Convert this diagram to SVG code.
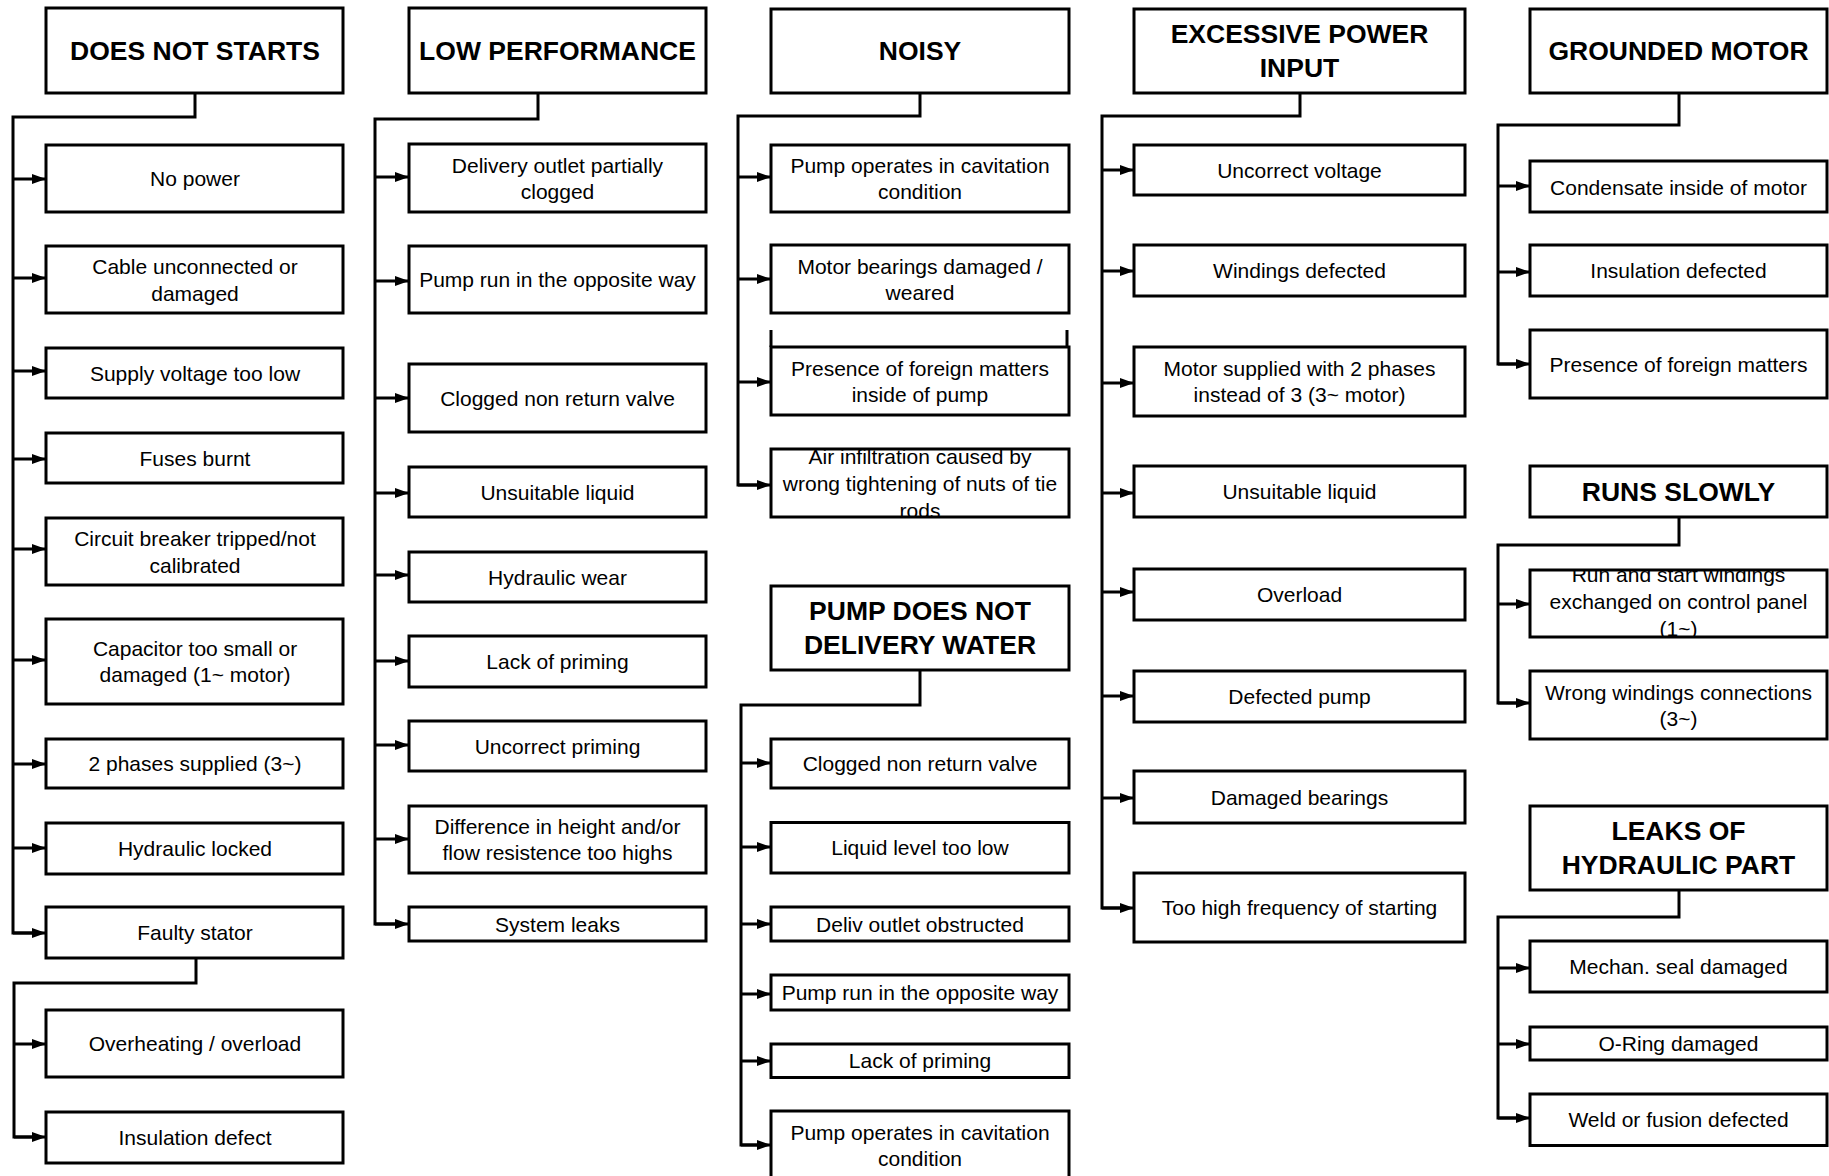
<svg xmlns="http://www.w3.org/2000/svg" width="1829" height="1176" viewBox="0 0 1829 1176">
<style>
.box{fill:#fff;stroke:#000;stroke-width:3}
.hd{font-family:"Liberation Sans",Arial,sans-serif;font-weight:bold;font-size:26.5px;text-anchor:middle;fill:#000}
.tx{font-family:"Liberation Sans",Arial,sans-serif;font-size:21px;text-anchor:middle;fill:#000}
.cn{fill:none;stroke:#000;stroke-width:3;stroke-linejoin:miter}
.ar{fill:none;stroke:#000;stroke-width:3;marker-end:url(#arr)}
</style>
<defs>
<marker id="arr" markerUnits="userSpaceOnUse" markerWidth="14" markerHeight="10" refX="14" refY="5" orient="auto">
<path d="M0,0 L14,5 L0,10 z" fill="#000"/>
</marker>
<clipPath id="clipAir"><rect x="771" y="449" width="298" height="68"/></clipPath>
<clipPath id="clipRun"><rect x="1530" y="570" width="297" height="67"/></clipPath>
</defs>
<rect width="1829" height="1176" fill="#fff"/>

<g id="connectors">
<!-- column 1 -->
<path class="cn" d="M195,93 V117 H13 V933 H32"/>
<line class="ar" x1="13" y1="179" x2="46" y2="179"/>
<line class="ar" x1="13" y1="278" x2="46" y2="278"/>
<line class="ar" x1="13" y1="371" x2="46" y2="371"/>
<line class="ar" x1="13" y1="459" x2="46" y2="459"/>
<line class="ar" x1="13" y1="549" x2="46" y2="549"/>
<line class="ar" x1="13" y1="660" x2="46" y2="660"/>
<line class="ar" x1="13" y1="764" x2="46" y2="764"/>
<line class="ar" x1="13" y1="848" x2="46" y2="848"/>
<line class="ar" x1="13" y1="933" x2="46" y2="933"/>
<path class="cn" d="M196,958 V983 H14 V1137 H32"/>
<line class="ar" x1="14" y1="1044" x2="46" y2="1044"/>
<line class="ar" x1="14" y1="1137" x2="46" y2="1137"/>
<!-- column 2 -->
<path class="cn" d="M538,93 V119 H375 V924 H395"/>
<line class="ar" x1="375" y1="177" x2="409" y2="177"/>
<line class="ar" x1="375" y1="281" x2="409" y2="281"/>
<line class="ar" x1="375" y1="398" x2="409" y2="398"/>
<line class="ar" x1="375" y1="493" x2="409" y2="493"/>
<line class="ar" x1="375" y1="575" x2="409" y2="575"/>
<line class="ar" x1="375" y1="661" x2="409" y2="661"/>
<line class="ar" x1="375" y1="745" x2="409" y2="745"/>
<line class="ar" x1="375" y1="839" x2="409" y2="839"/>
<line class="ar" x1="375" y1="924" x2="409" y2="924"/>
<!-- column 3 noisy -->
<path class="cn" d="M920,93 V116 H738 V485 H757"/>
<line class="ar" x1="738" y1="177" x2="771" y2="177"/>
<line class="ar" x1="738" y1="279" x2="771" y2="279"/>
<line class="ar" x1="738" y1="382" x2="771" y2="382"/>
<line class="ar" x1="738" y1="485" x2="771" y2="485"/>
<!-- column 3 pump does not deliver -->
<path class="cn" d="M920,670 V705 H741 V1145 H757"/>
<line class="ar" x1="741" y1="763" x2="771" y2="763"/>
<line class="ar" x1="741" y1="847" x2="771" y2="847"/>
<line class="ar" x1="741" y1="924" x2="771" y2="924"/>
<line class="ar" x1="741" y1="994" x2="771" y2="994"/>
<line class="ar" x1="741" y1="1061" x2="771" y2="1061"/>
<line class="ar" x1="741" y1="1145" x2="771" y2="1145"/>
<!-- column 4 -->
<path class="cn" d="M1300,93 V116 H1102 V908 H1120"/>
<line class="ar" x1="1102" y1="170" x2="1134" y2="170"/>
<line class="ar" x1="1102" y1="271" x2="1134" y2="271"/>
<line class="ar" x1="1102" y1="383" x2="1134" y2="383"/>
<line class="ar" x1="1102" y1="493" x2="1134" y2="493"/>
<line class="ar" x1="1102" y1="592" x2="1134" y2="592"/>
<line class="ar" x1="1102" y1="696" x2="1134" y2="696"/>
<line class="ar" x1="1102" y1="798" x2="1134" y2="798"/>
<line class="ar" x1="1102" y1="908" x2="1134" y2="908"/>
<!-- column 5 -->
<path class="cn" d="M1679,93 V125 H1498 V364 H1516"/>
<line class="ar" x1="1498" y1="186" x2="1530" y2="186"/>
<line class="ar" x1="1498" y1="272" x2="1530" y2="272"/>
<line class="ar" x1="1498" y1="364" x2="1530" y2="364"/>
<path class="cn" d="M1679,517 V545 H1498 V703 H1516"/>
<line class="ar" x1="1498" y1="604" x2="1530" y2="604"/>
<line class="ar" x1="1498" y1="703" x2="1530" y2="703"/>
<path class="cn" d="M1679,890 V917 H1498 V1118 H1516"/>
<line class="ar" x1="1498" y1="968" x2="1530" y2="968"/>
<line class="ar" x1="1498" y1="1044" x2="1530" y2="1044"/>
<line class="ar" x1="1498" y1="1118" x2="1530" y2="1118"/>
</g>

<!-- Column 1 -->
<g id="does-not-starts"><rect class="box" x="46" y="8" width="297" height="85"/><text class="hd" x="195" y="59.5">DOES NOT STARTS</text></g>
<g id="no-power"><rect class="box" x="46" y="145" width="297" height="67"/><text class="tx" x="195" y="186">No power</text></g>
<g id="cable"><rect class="box" x="46" y="246" width="297" height="67"/><text class="tx" x="195" y="274">Cable unconnected or</text><text class="tx" x="195" y="300.5">damaged</text></g>
<g id="supply-voltage"><rect class="box" x="46" y="348" width="297" height="50"/><text class="tx" x="195" y="380.5">Supply voltage too low</text></g>
<g id="fuses"><rect class="box" x="46" y="433" width="297" height="50"/><text class="tx" x="195" y="465.5">Fuses burnt</text></g>
<g id="circuit-breaker"><rect class="box" x="46" y="518" width="297" height="67"/><text class="tx" x="195" y="546">Circuit breaker tripped/not</text><text class="tx" x="195" y="572.5">calibrated</text></g>
<g id="capacitor"><rect class="box" x="46" y="619" width="297" height="85"/><text class="tx" x="195" y="656">Capacitor too small or</text><text class="tx" x="195" y="682">damaged (1~ motor)</text></g>
<g id="two-phases"><rect class="box" x="46" y="739" width="297" height="49"/><text class="tx" x="195" y="771">2 phases supplied (3~)</text></g>
<g id="hydraulic-locked"><rect class="box" x="46" y="823" width="297" height="51"/><text class="tx" x="195" y="856">Hydraulic locked</text></g>
<g id="faulty-stator"><rect class="box" x="46" y="907" width="297" height="51"/><text class="tx" x="195" y="940">Faulty stator</text></g>
<g id="overheating"><rect class="box" x="46" y="1010" width="297" height="67"/><text class="tx" x="195" y="1051">Overheating / overload</text></g>
<g id="insulation-defect"><rect class="box" x="46" y="1112" width="297" height="51"/><text class="tx" x="195" y="1145">Insulation defect</text></g>

<!-- Column 2 -->
<g id="low-performance"><rect class="box" x="409" y="8" width="297" height="85"/><text class="hd" x="557.5" y="59.5">LOW PERFORMANCE</text></g>
<g id="delivery-outlet"><rect class="box" x="409" y="144" width="297" height="68"/><text class="tx" x="557.5" y="172.5">Delivery outlet partially</text><text class="tx" x="557.5" y="198.5">clogged</text></g>
<g id="pump-run-1"><rect class="box" x="409" y="246" width="297" height="67"/><text class="tx" x="557.5" y="287">Pump run in the opposite way</text></g>
<g id="clogged-valve-1"><rect class="box" x="409" y="364" width="297" height="68"/><text class="tx" x="557.5" y="405.5">Clogged non return valve</text></g>
<g id="unsuitable-liquid-1"><rect class="box" x="409" y="467" width="297" height="50"/><text class="tx" x="557.5" y="499.5">Unsuitable liquid</text></g>
<g id="hydraulic-wear"><rect class="box" x="409" y="552" width="297" height="50"/><text class="tx" x="557.5" y="584.5">Hydraulic wear</text></g>
<g id="lack-priming-1"><rect class="box" x="409" y="636" width="297" height="51"/><text class="tx" x="557.5" y="669">Lack of priming</text></g>
<g id="uncorrect-priming"><rect class="box" x="409" y="721" width="297" height="50"/><text class="tx" x="557.5" y="753.5">Uncorrect priming</text></g>
<g id="difference-height"><rect class="box" x="409" y="806" width="297" height="67"/><text class="tx" x="557.5" y="834">Difference in height and/or</text><text class="tx" x="557.5" y="860">flow resistence too highs</text></g>
<g id="system-leaks"><rect class="box" x="409" y="907" width="297" height="34"/><text class="tx" x="557.5" y="931.5">System leaks</text></g>

<!-- Column 3 -->
<g id="noisy"><rect class="box" x="771" y="9" width="298" height="84"/><text class="hd" x="920" y="60">NOISY</text></g>
<g id="cavitation-1"><rect class="box" x="771" y="145" width="298" height="67"/><text class="tx" x="920" y="173">Pump operates in cavitation</text><text class="tx" x="920" y="199">condition</text></g>
<g id="motor-bearings"><rect class="box" x="771" y="245" width="298" height="68"/><text class="tx" x="920" y="273.5">Motor bearings damaged /</text><text class="tx" x="920" y="299.5">weared</text></g>
<g id="foreign-matters-pump"><line x1="771" y1="330" x2="771" y2="347" stroke="#000" stroke-width="3"/><line x1="1067" y1="330" x2="1067" y2="347" stroke="#000" stroke-width="3"/><rect class="box" x="771" y="347" width="298" height="68"/><text class="tx" x="920" y="375.5">Presence of foreign matters</text><text class="tx" x="920" y="401.5">inside of pump</text></g>
<g id="air-infiltration"><rect x="771" y="449" width="298" height="68" fill="#fff"/><g clip-path="url(#clipAir)"><text class="tx" x="920" y="463.5">Air infiltration caused by</text><text class="tx" x="920" y="490.5">wrong tightening of nuts of tie</text><text class="tx" x="920" y="517.5">rods</text></g><rect x="771" y="449" width="298" height="68" fill="none" stroke="#000" stroke-width="3"/></g>

<g id="pump-no-water"><rect class="box" x="771" y="586" width="298" height="84"/><text class="hd" x="920" y="620">PUMP DOES NOT</text><text class="hd" x="920" y="654">DELIVERY WATER</text></g>
<g id="clogged-valve-2"><rect class="box" x="771" y="739" width="298" height="49"/><text class="tx" x="920" y="771">Clogged non return valve</text></g>
<g id="liquid-level"><rect class="box" x="771" y="822.5" width="298" height="50.5"/><text class="tx" x="920" y="855">Liquid level too low</text></g>
<g id="deliv-outlet"><rect class="box" x="771" y="907" width="298" height="34"/><text class="tx" x="920" y="931.5">Deliv outlet obstructed</text></g>
<g id="pump-run-2"><rect class="box" x="771" y="975" width="298" height="35"/><text class="tx" x="920" y="1000">Pump run in the opposite way</text></g>
<g id="lack-priming-2"><rect class="box" x="771" y="1044" width="298" height="33.5"/><text class="tx" x="920" y="1068">Lack of priming</text></g>
<g id="cavitation-2"><rect class="box" x="771" y="1111" width="298" height="70"/><text class="tx" x="920" y="1140">Pump operates in cavitation</text><text class="tx" x="920" y="1166">condition</text></g>

<!-- Column 4 -->
<g id="excessive-power"><rect class="box" x="1134" y="9" width="331" height="84"/><text class="hd" x="1299.5" y="43">EXCESSIVE POWER</text><text class="hd" x="1299.5" y="77">INPUT</text></g>
<g id="uncorrect-voltage"><rect class="box" x="1134" y="145" width="331" height="50"/><text class="tx" x="1299.5" y="177.5">Uncorrect voltage</text></g>
<g id="windings-defected"><rect class="box" x="1134" y="245" width="331" height="51"/><text class="tx" x="1299.5" y="278">Windings defected</text></g>
<g id="motor-two-phases"><rect class="box" x="1134" y="347" width="331" height="69"/><text class="tx" x="1299.5" y="376">Motor supplied with 2 phases</text><text class="tx" x="1299.5" y="402">instead of 3 (3~ motor)</text></g>
<g id="unsuitable-liquid-2"><rect class="box" x="1134" y="466" width="331" height="51"/><text class="tx" x="1299.5" y="499">Unsuitable liquid</text></g>
<g id="overload"><rect class="box" x="1134" y="569" width="331" height="51"/><text class="tx" x="1299.5" y="602">Overload</text></g>
<g id="defected-pump"><rect class="box" x="1134" y="671" width="331" height="51"/><text class="tx" x="1299.5" y="704">Defected pump</text></g>
<g id="damaged-bearings"><rect class="box" x="1134" y="771" width="331" height="52"/><text class="tx" x="1299.5" y="804.5">Damaged bearings</text></g>
<g id="high-frequency"><rect class="box" x="1134" y="873" width="331" height="69"/><text class="tx" x="1299.5" y="915">Too high frequency of starting</text></g>

<!-- Column 5 -->
<g id="grounded-motor"><rect class="box" x="1530" y="9" width="297" height="84"/><text class="hd" x="1678.5" y="60">GROUNDED MOTOR</text></g>
<g id="condensate"><rect class="box" x="1530" y="161" width="297" height="51"/><text class="tx" x="1678.5" y="194.5">Condensate inside of motor</text></g>
<g id="insulation-defected"><rect class="box" x="1530" y="245" width="297" height="51"/><text class="tx" x="1678.5" y="278">Insulation defected</text></g>
<g id="foreign-matters"><rect class="box" x="1530" y="330" width="297" height="68"/><text class="tx" x="1678.5" y="371.5">Presence of foreign matters</text></g>
<g id="runs-slowly"><rect class="box" x="1530" y="466" width="297" height="51"/><text class="hd" x="1678.5" y="500.5">RUNS SLOWLY</text></g>
<g id="run-start-windings"><rect x="1530" y="570" width="297" height="67" fill="#fff"/><g clip-path="url(#clipRun)"><text class="tx" x="1678.5" y="582">Run and start windings</text><text class="tx" x="1678.5" y="609">exchanged on control panel</text><text class="tx" x="1678.5" y="636">(1~)</text></g><rect x="1530" y="570" width="297" height="67" fill="none" stroke="#000" stroke-width="3"/></g>
<g id="wrong-windings"><rect class="box" x="1530" y="671" width="297" height="68"/><text class="tx" x="1678.5" y="699.5">Wrong windings connections</text><text class="tx" x="1678.5" y="725.5">(3~)</text></g>
<g id="leaks-hydraulic"><rect class="box" x="1530" y="806" width="297" height="84"/><text class="hd" x="1678.5" y="840">LEAKS OF</text><text class="hd" x="1678.5" y="874">HYDRAULIC PART</text></g>
<g id="mechan-seal"><rect class="box" x="1530" y="941" width="297" height="51"/><text class="tx" x="1678.5" y="974">Mechan. seal damaged</text></g>
<g id="o-ring"><rect class="box" x="1530" y="1027" width="297" height="33"/><text class="tx" x="1678.5" y="1051">O-Ring damaged</text></g>
<g id="weld-fusion"><rect class="box" x="1530" y="1094" width="297" height="51.5"/><text class="tx" x="1678.5" y="1127">Weld or fusion defected</text></g>
</svg>
